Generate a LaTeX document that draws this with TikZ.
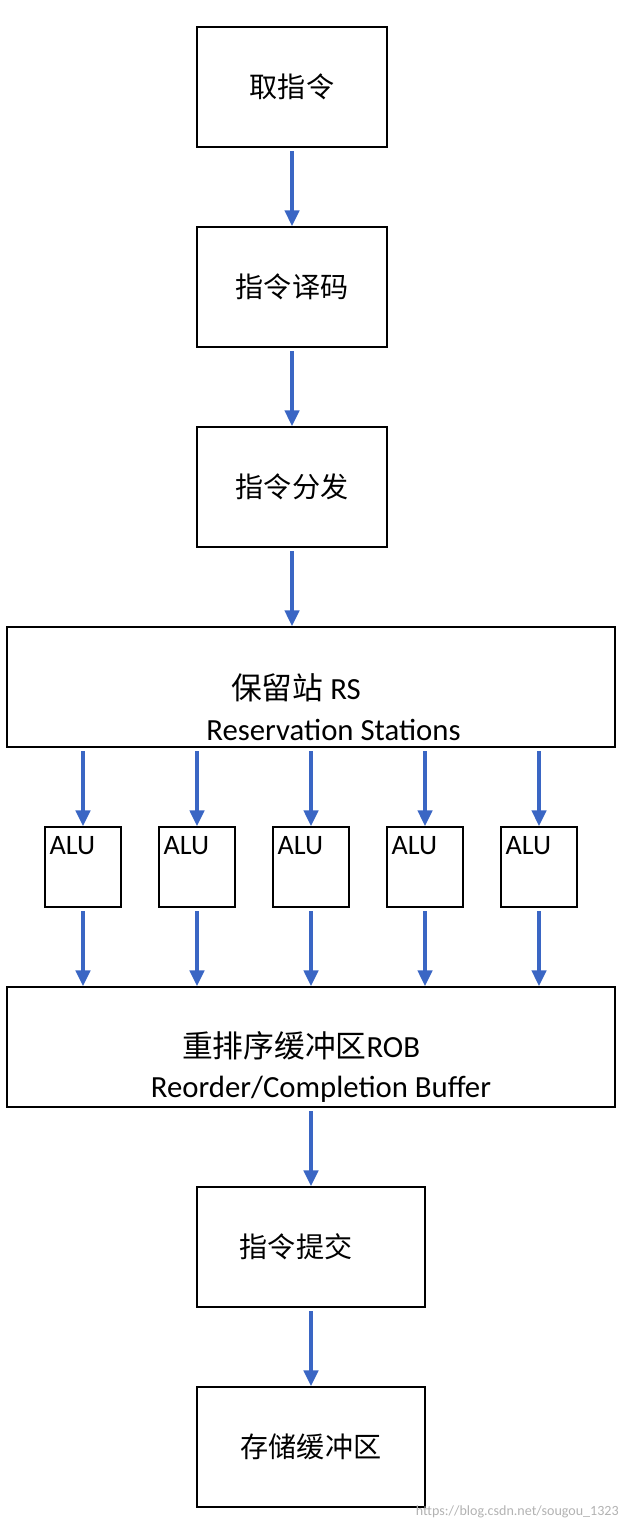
\documentclass[tikz,border=0pt]{standalone}
\usepackage{fontspec}
\setmainfont{Carlito}
\newfontfamily\cjk{Noto Sans CJK SC}
\usepackage{tikz}
\usetikzlibrary{arrows.meta,positioning}
\definecolor{flowblue}{RGB}{58,102,196}

\begin{document}
\begin{tikzpicture}[
    stage/.style={rectangle, draw, line width=0.9pt, minimum width=3.8cm, minimum height=2.4cm, align=center, font=\fontsize{16pt}{22pt}\selectfont},
    wide/.style={stage, minimum width=12.16cm},
    widetext/.style={yshift=-0.4cm, align=center, font=\fontsize{17.5pt}{23pt}\selectfont},
    alu/.style={rectangle, draw, line width=0.9pt, minimum width=1.52cm, minimum height=1.6cm,
        label={[anchor=north west, inner sep=0pt, xshift=0.1cm, yshift=-0.2cm, font=\fontsize{16pt}{18pt}\selectfont]north west:ALU}},
    arrow/.style={-{Triangle[length=9pt, width=8pt]}, line width=2.3pt, flowblue, shorten <=2pt}
]
\useasboundingbox (0,0) rectangle (12.64,-30.6);

% Front end
\node[stage] (fetch) at (5.84, -1.74) {\cjk 取指令};
\node[stage] (decode) at (5.84, -5.74) {\cjk 指令译码};
\node[stage] (issue) at (5.84, -9.74) {\cjk 指令分发};
\node[wide, label={[widetext]center:{\hspace*{-0.6cm}{\cjk 保留站} RS\\\hspace*{0.9cm}Reservation Stations}}] (rs) at (6.22, -13.74) {};

% Execution units
\foreach \i/\x in {1/1.66, 2/3.94, 3/6.22, 4/8.5, 5/10.78}
    \node[alu] (alu\i) at (\x, -17.34) {};

% Back end
\node[wide, label={[widetext]center:{\hspace*{-0.4cm}{\cjk 重排序缓冲区}ROB\\\hspace*{0.4cm}Reorder/Completion Buffer}}] (rob) at (6.22, -20.94) {};
\node[stage, minimum width=4.56cm] (commit) at (6.22, -24.94) {\hspace*{-0.6cm}\cjk 指令提交};
\node[stage, minimum width=4.56cm] (store) at (6.22, -28.94) {\cjk 存储缓冲区};

% Arrows
\draw[arrow] (fetch) -- (decode);
\draw[arrow] (decode) -- (issue);
\draw[arrow] (issue) -- (issue |- rs.north);
\foreach \i in {1,...,5} {
    \draw[arrow] (rs.south -| alu\i) -- (alu\i);
    \draw[arrow] (alu\i) -- (rob.north -| alu\i);
}
\draw[arrow] (rob.south -| commit) -- (commit);
\draw[arrow] (commit) -- (store);

% Watermark
\node[anchor=east, gray!60, font=\fontsize{8pt}{9pt}\selectfont] (mark) at (12.5, -30.24) {https://blog.csdn.net/sougou\_1323};
\end{tikzpicture}
\end{document}
